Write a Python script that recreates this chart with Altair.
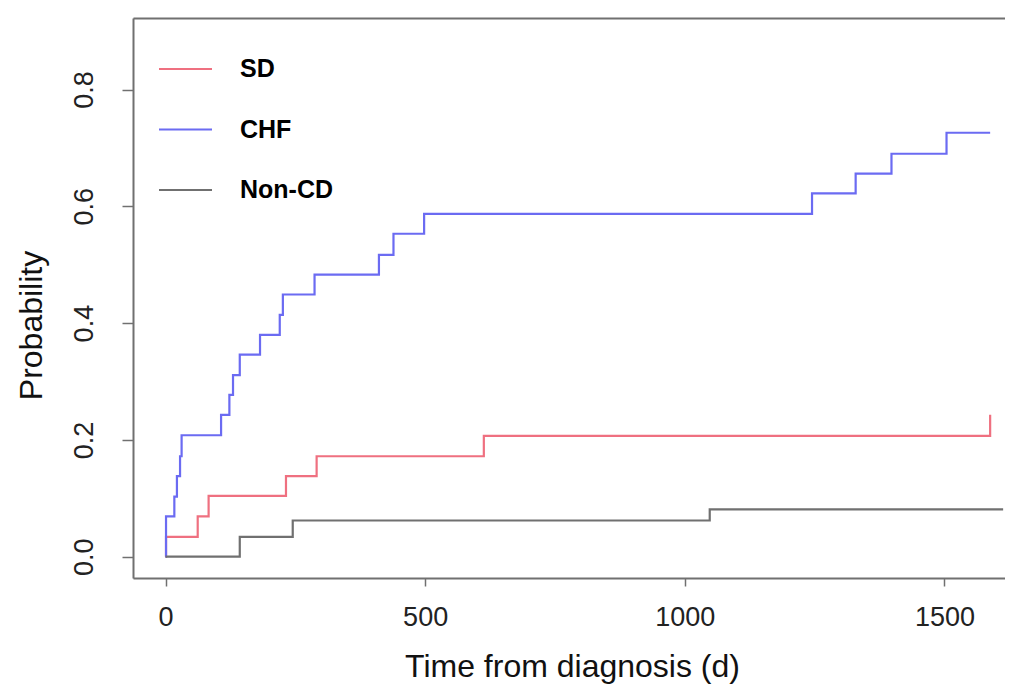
import altair as alt
import pandas as pd

# ---- data ----
series_names = ["SD", "CHF", "Non-CD"]
series_colors = ["#EF7080", "#6B6BF2", "#707070"]

sd_time = [0, 1, 62, 83, 232, 291, 613, 1588]
sd_prob = [0.0, 0.034, 0.069, 0.104, 0.138, 0.172, 0.207, 0.243]

chf_time = [0, 1, 17, 22, 28, 31, 107, 123, 130, 143, 182, 220, 226, 287,
            411, 439, 498, 1245, 1329, 1398, 1504, 1588]
chf_prob = [0.0, 0.069, 0.103, 0.138, 0.172, 0.208, 0.243, 0.277, 0.311, 0.346,
            0.380, 0.414, 0.449, 0.483, 0.517, 0.553, 0.587, 0.622, 0.656,
            0.690, 0.726, 0.726]

noncd_time = [0, 143, 245, 1048, 1613]
noncd_prob = [0.0, 0.034, 0.062, 0.081, 0.081]

x_ticks = [0, 500, 1000, 1500]
y_ticks = [0.0, 0.2, 0.4, 0.6, 0.8]

rows = []
for name, ts, ps in [("SD", sd_time, sd_prob),
                     ("CHF", chf_time, chf_prob),
                     ("Non-CD", noncd_time, noncd_prob)]:
    for i, (t, p) in enumerate(zip(ts, ps)):
        rows.append({"series": name, "time": t, "prob": p, "idx": i})
df = pd.DataFrame(rows)

FRAME = "#707070"
FONT = "Liberation Sans, Arial, sans-serif"

x_scale = alt.Scale(domain=[-62.6, 1616.6], nice=False, zero=False)
y_scale = alt.Scale(domain=[-0.0365, 0.9225], nice=False, zero=False)

lines = alt.Chart(df).mark_line(interpolate="step-after", strokeWidth=2.2).encode(
    x=alt.X("time:Q", scale=x_scale,
            axis=alt.Axis(values=x_ticks, format="d", title="Time from diagnosis (d)",
                          orient="bottom", grid=False,
                          domain=True, domainColor=FRAME, domainWidth=2,
                          ticks=True, tickColor=FRAME, tickWidth=1.5, tickSize=8,
                          labelFont=FONT, labelFontSize=27, labelColor="#222222",
                          labelPadding=39, labelBaseline="alphabetic",
                          labelFlush=False, labelOverlap=False,
                          titleFont=FONT, titleFontSize=32, titleFontWeight="normal",
                          titleColor="#111111", titleX=439, titleY=98,
                          titleBaseline="alphabetic", titleAlign="center")),
    y=alt.Y("prob:Q", scale=y_scale,
            axis=alt.Axis(values=y_ticks, format=".1f", title="Probability",
                          orient="left", grid=False,
                          domain=True, domainColor=FRAME, domainWidth=2,
                          ticks=True, tickColor=FRAME, tickWidth=1.5, tickSize=11,
                          labelFont=FONT, labelFontSize=27, labelColor="#222222",
                          labelAngle=270, labelAlign="center", labelBaseline="alphabetic",
                          labelPadding=30, labelFlush=False, labelOverlap=False,
                          titleFont=FONT, titleFontSize=32, titleFontWeight="normal",
                          titleColor="#111111", titleAngle=270, titleX=-92, titleY=307,
                          titleBaseline="alphabetic", titleAlign="center")),
    color=alt.Color("series:N",
                    scale=alt.Scale(domain=series_names, range=series_colors),
                    legend=alt.Legend(orient="none", legendX=25, legendY=23.5, title=None,
                                      symbolType="stroke", symbolSize=2809,
                                      symbolStrokeWidth=2, direction="vertical",
                                      labelFont=FONT, labelFontSize=25,
                                      labelFontWeight="bold", labelColor="#000000",
                                      labelOffset=27, rowPadding=19.5, padding=0,
                                      labelBaseline="middle")),
    order=alt.Order("idx:Q"),
)

frame_top = alt.Chart(df).mark_line(opacity=0).encode(
    x=alt.X("time:Q", scale=x_scale,
            axis=alt.Axis(orient="top", labels=False, ticks=False, title=None, grid=False,
                          domain=True, domainColor=FRAME, domainWidth=2)),
    order=alt.Order("idx:Q"),
)

chart = alt.layer(lines, frame_top).resolve_axis(x="independent").properties(
    width=872,
    height=560,
    autosize=alt.AutoSizeParams(type="none"),
    padding={"left": 125, "top": 10, "right": 0, "bottom": 110},
).configure_view(stroke=None).configure(background="white")

chart.save("out.html", embed_options={"renderer": "svg", "actions": False})
